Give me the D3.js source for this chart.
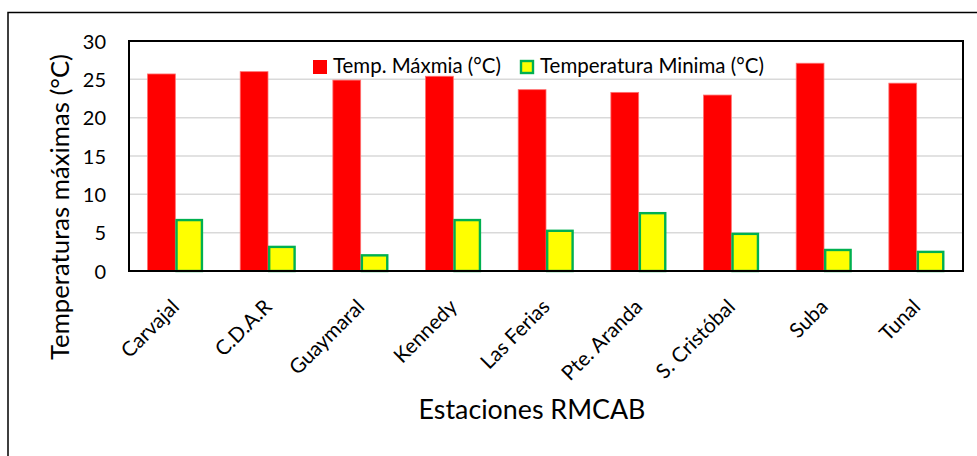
<!DOCTYPE html>
<html><head><meta charset="utf-8">
<script src="https://cdn.jsdelivr.net/npm/d3@7"></script>
<style>body{margin:0;background:#fff;} svg{display:block;font-family:Lato, "Open Sans", sans-serif;}</style>
</head><body><svg id="c" width="977" height="456"></svg>
<script>
const categories = ["Carvajal","C.D.A.R","Guaymaral","Kennedy","Las Ferias","Pte. Aranda","S. Cristóbal","Suba","Tunal"];
const tempMax = [25.7, 26.0, 24.9, 25.4, 23.65, 23.3, 22.95, 27.1, 24.5];
const tempMin = [6.8, 3.3, 2.2, 6.8, 5.4, 7.7, 5.0, 2.9, 2.65];
const seriesNames = ["Temp. Máxmia (°C)", "Temperatura Minima (°C)"];
const yTicks = [0,5,10,15,20,25,30];
const yTitle = "Temperaturas máximas (°C)";
const xTitle = "Estaciones RMCAB";

const svg = d3.select("#c");
const L=129, R=963, T=41, B=271;
const x = d3.scaleBand().domain(categories).range([L,R]).paddingInner(0.4).paddingOuter(0.2);
const x1 = d3.scaleBand().domain([0,1]).range([0,x.bandwidth()]);
const y = d3.scaleLinear().domain([0,30]).range([B,T]);

function fit(sel, w){ sel.each(function(){ const t=d3.select(this); const fs=parseFloat(t.attr("font-size")); const len=this.getComputedTextLength(); t.attr("font-size", fs*w/len); }); }

// outer frame
svg.append("rect").attr("x",8).attr("y",12.5).attr("width",1000).attr("height",500).attr("fill","none").attr("stroke","#000").attr("stroke-width",1.5);

// gridlines
svg.append("g").selectAll("line").data(yTicks.filter(d=>d>0&&d<30)).join("line")
  .attr("x1",L).attr("x2",R).attr("y1",d=>y(d)).attr("y2",d=>y(d)).attr("stroke","#d9d9d9").attr("stroke-width",1.5);

// bars
const g = svg.append("g");
categories.forEach((c,i)=>{
  g.append("rect").attr("x",x(c)+x1(0)).attr("width",x1.bandwidth()).attr("y",y(tempMax[i])).attr("height",y(0)-y(tempMax[i]))
   .attr("fill","#ff0000").attr("stroke","#ff7070").attr("stroke-width",0.8);
  g.append("rect").attr("x",x(c)+x1(1)+1.2).attr("width",x1.bandwidth()-2.4).attr("y",y(tempMin[i])+1.2).attr("height",y(0)-y(tempMin[i])-1.2)
   .attr("fill","#ffff00").attr("stroke","#00b050").attr("stroke-width",2.4);
});

// plot border
svg.append("rect").attr("x",L).attr("y",T).attr("width",R-L).attr("height",B-T).attr("fill","none").attr("stroke","#000").attr("stroke-width",2);

// y axis labels
const ya = svg.append("g").attr("transform",`translate(${L},0)`).call(d3.axisLeft(y).tickValues(yTicks).tickSize(0).tickPadding(23));
ya.select(".domain").remove();
ya.selectAll("text").attr("font-size",20).attr("font-family","Lato").attr("fill","#000").attr("dy","0.35em");

// x axis labels
svg.append("g").selectAll("text").data(categories).join("text")
  .attr("transform",d=>`translate(${x(d)+x.bandwidth()/2},${B+32}) rotate(-45)`)
  .attr("text-anchor","end").attr("font-size",20.5).attr("dy","0.35em").text(d=>d);

// axis titles
svg.append("text").attr("transform",`translate(69,${207}) rotate(-90)`).attr("text-anchor","middle").attr("font-size",22).text(yTitle).call(fit,306);
svg.append("text").attr("x",532).attr("y",419).attr("text-anchor","middle").attr("font-size",20).text(xTitle).call(fit,227);

// legend
const lg = svg.append("g");
const lx=[313,520];
lx.forEach((px,i)=>{
  if(i===0) lg.append("rect").attr("x",px).attr("y",60).attr("width",14).attr("height",14).attr("fill","#ff0000");
  else lg.append("rect").attr("x",px+1).attr("y",61).attr("width",12).attr("height",12).attr("fill","#ffff00").attr("stroke","#00b050").attr("stroke-width",2.4);
  lg.append("text").attr("x",px+20).attr("y",73).attr("font-size",17).text(seriesNames[i]).call(fit, i===0?168:224);
});
</script></body></html>
